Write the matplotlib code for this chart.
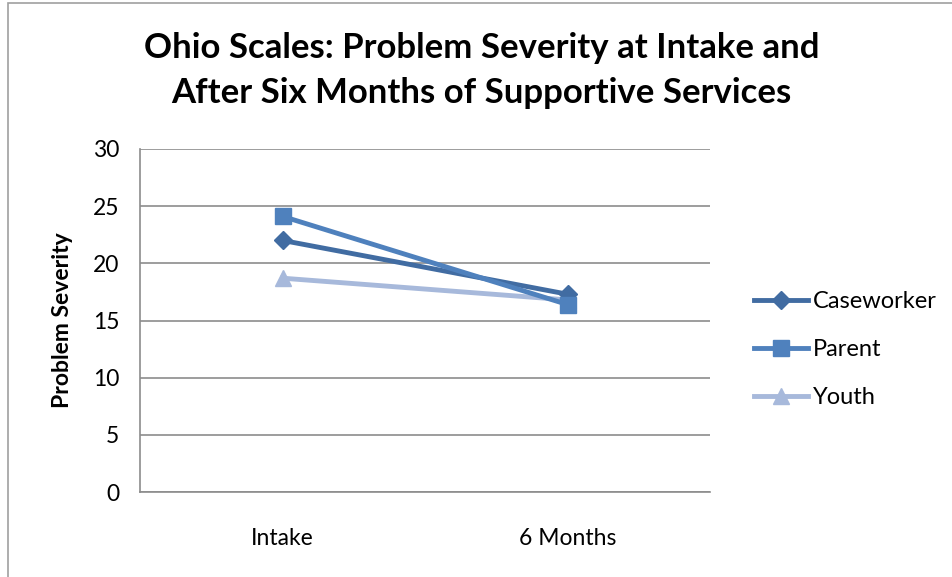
import matplotlib.pyplot as plt
from matplotlib.patches import Rectangle

# data
categories = ["Intake", "6 Months"]
caseworker = [22.0, 17.3]
parent = [24.1, 16.4]
youth = [18.7, 16.8]

plt.rcParams['font.family'] = ['Lato', 'DejaVu Sans']

fig = plt.figure(figsize=(9.53, 5.77), dpi=100)
# chart border
fig.patches.append(Rectangle((8 / 953, -0.01), 1.0, 1 - 3 / 577 + 0.01,
                             transform=fig.transFigure, fill=False,
                             edgecolor="#A0A0A0", linewidth=1.2))

ax = fig.add_axes([0.147, 0.147, 0.598, 0.595])
x = range(len(categories))
ax.plot(x, youth, color="#A7B9DB", marker="^", markersize=11, linewidth=3.5, label="Youth", zorder=3)
ax.plot(x, caseworker, color="#416CA2", marker="D", markersize=9, linewidth=3.5, label="Caseworker", zorder=4)
ax.plot(x, parent, color="#4F81BD", marker="s", markersize=11, linewidth=3.5, label="Parent", zorder=5)

ax.set_xlim(-0.5, 1.5)
ax.set_ylim(0, 30)
ax.set_yticks(range(0, 31, 5))
ax.set_xticks(list(x))
ax.set_xticklabels(categories)
ax.tick_params(length=0, labelsize=16.5, pad=26)
ax.tick_params(axis="y", pad=15)
ax.yaxis.grid(True, color="#8C8C8C", linewidth=1.2)
ax.set_axisbelow(True)
for s in ["top", "right"]:
    ax.spines[s].set_visible(False)
for s in ["left", "bottom"]:
    ax.spines[s].set_color("#8C8C8C")
    ax.spines[s].set_linewidth(1.2)
ax.set_ylabel("Problem Severity", fontsize=16.5, fontweight="bold", labelpad=14)

fig.text(0.505, 0.877, "Ohio Scales: Problem Severity at Intake and\nAfter Six Months of Supportive Services",
         ha="center", va="center", fontsize=25, fontweight="bold", linespacing=1.5)

handles, labels = ax.get_legend_handles_labels()
order = [1, 2, 0]
ax.legend([handles[i] for i in order], [labels[i] for i in order],
          loc="center left", bbox_to_anchor=(1.04, 0.415), frameon=False,
          fontsize=17, handlelength=2.3, labelspacing=1.15, handletextpad=0.2)

fig.savefig("out.png", dpi=100)
